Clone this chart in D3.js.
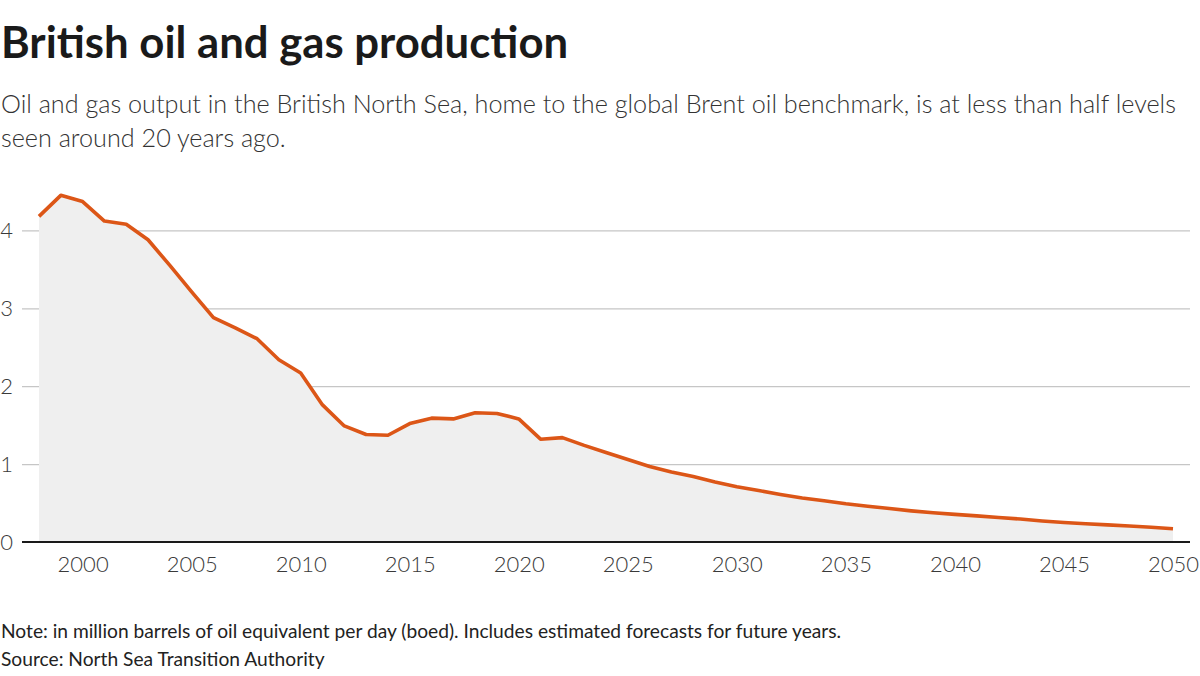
<!DOCTYPE html>
<html>
<head>
<meta charset="utf-8">
<script src="https://cdn.jsdelivr.net/npm/d3@7/dist/d3.min.js"></script>
<style>
  html, body { margin: 0; padding: 0; background: #fff; }
  svg { display: block; font-family: Lato, "Source Sans Pro", "Noto Sans", sans-serif; }
</style>
</head>
<body>
<svg id="chart" width="1200" height="676"></svg>
<script>
const titleText = "British oil and gas production";
const subtitleLines = [
  "Oil and gas output in the British North Sea, home to the global Brent oil benchmark, is at less than half levels",
  "seen around 20 years ago."
];
const noteText = "Note: in million barrels of oil equivalent per day (boed). Includes estimated forecasts for future years.";
const sourceText = "Source: North Sea Transition Authority";

const years = [1998,1999,2000,2001,2002,2003,2004,2005,2006,2007,2008,2009,2010,2011,2012,2013,2014,2015,2016,2017,2018,2019,2020,2021,2022,2023,2024,2025,2026,2027,2028,2029,2030,2031,2032,2033,2034,2035,2036,2037,2038,2039,2040,2041,2042,2043,2044,2045,2046,2047,2048,2049,2050];
const production = [4.18,4.45,4.37,4.12,4.08,3.88,3.55,3.21,2.88,2.75,2.61,2.34,2.17,1.76,1.49,1.38,1.37,1.52,1.59,1.58,1.66,1.65,1.58,1.32,1.34,1.24,1.15,1.06,0.97,0.90,0.84,0.77,0.71,0.66,0.61,0.565,0.53,0.49,0.46,0.43,0.40,0.375,0.355,0.335,0.315,0.295,0.27,0.25,0.235,0.22,0.205,0.19,0.17];
const yTicks = [0,1,2,3,4];
const xTicks = [2000,2005,2010,2015,2020,2025,2030,2035,2040,2045,2050];

const data = years.map((y, i) => ({ year: y, value: production[i] }));

const svg = d3.select("#chart");
const gridLeft = 22, gridRight = 1190;

const x = d3.scaleLinear().domain([1998, 2050]).range([39, 1173]);
const y = d3.scaleLinear().domain([0, 4]).range([542, 230.4]);

// Title & subtitle
svg.append("text").attr("x", 1).attr("y", 58)
  .attr("font-size", 43.7).attr("font-weight", 700).attr("fill", "#1a1a1a")
  .text(titleText);
subtitleLines.forEach((t, i) => {
  svg.append("text").attr("x", 1).attr("y", 113 + i * 34)
    .attr("font-size", 25.2).attr("font-weight", 300).attr("fill", "#333")
    .text(t);
});

// Gridlines and y axis
const yAxis = d3.axisLeft(y).tickValues(yTicks).tickFormat(d3.format("d"))
  .tickSize(-(gridRight - gridLeft)).tickPadding(9);
const gy = svg.append("g").attr("transform", `translate(${gridLeft},0)`).call(yAxis);
gy.select(".domain").remove();
gy.selectAll(".tick line").attr("stroke", "#c6c6c6").attr("stroke-width", 1.2);
gy.selectAll(".tick text").attr("font-size", 22).attr("font-weight", 300).attr("fill", "#3a3a3a")
  .attr("font-family", "Lato, sans-serif");
gy.selectAll(".tick").filter(d => d === 0).select("line").remove();

// Area
const area = d3.area().x(d => x(d.year)).y0(y(0)).y1(d => y(d.value));
svg.append("path").datum(data).attr("d", area).attr("fill", "#efefef");

// Baseline
svg.append("line").attr("x1", gridLeft).attr("x2", gridRight)
  .attr("y1", y(0)).attr("y2", y(0)).attr("stroke", "#1a1a1a").attr("stroke-width", 2);

// Line
const line = d3.line().x(d => x(d.year)).y(d => y(d.value));
svg.append("path").datum(data).attr("d", line)
  .attr("fill", "none").attr("stroke", "#dc5617").attr("stroke-width", 3.6)
  .attr("stroke-linejoin", "round");

// X axis
const xAxis = d3.axisBottom(x).tickValues(xTicks).tickFormat(d3.format("d"))
  .tickSize(0).tickPadding(14);
const gx = svg.append("g").attr("transform", `translate(0,${y(0)})`).call(xAxis);
gx.select(".domain").remove();
gx.selectAll(".tick text").attr("font-size", 22).attr("font-weight", 300).attr("fill", "#3a3a3a")
  .attr("font-family", "Lato, sans-serif");

// Notes
svg.append("text").attr("x", 1).attr("y", 638)
  .attr("font-size", 19.2).attr("font-weight", 400).attr("fill", "#222").text(noteText);
svg.append("text").attr("x", 1).attr("y", 666)
  .attr("font-size", 19.2).attr("font-weight", 400).attr("fill", "#222").text(sourceText);
</script>
</body>
</html>
